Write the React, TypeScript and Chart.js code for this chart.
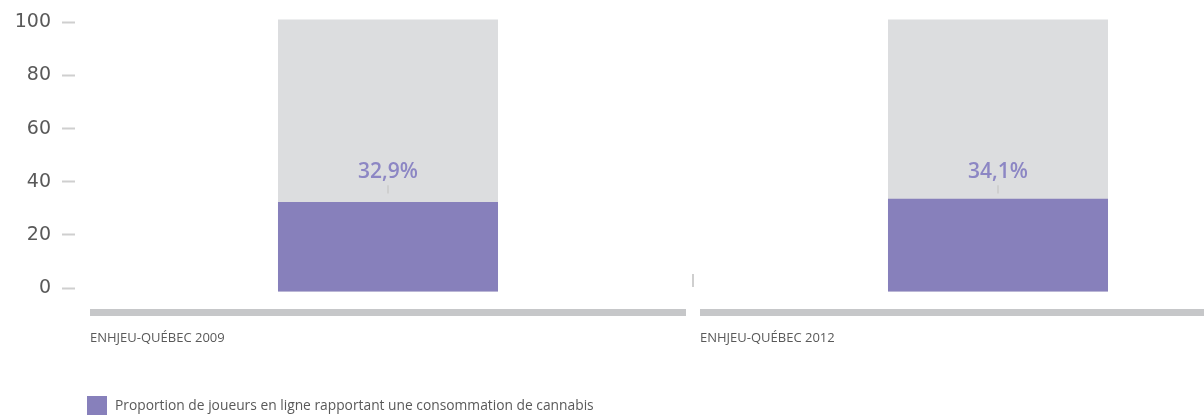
import React, { useEffect, useRef } from 'react';
import { Chart, registerables } from 'chart.js';

Chart.register(...registerables);

const categories = ['ENHJEU-QUÉBEC 2009', 'ENHJEU-QUÉBEC 2012'];
const cannabisValues = [32.9, 34.1];
const totalValues = [100, 100];
const valueLabels = ['32,9%', '34,1%'];
const legendLabel = 'Proportion de joueurs en ligne rapportant une consommation de cannabis';

const FONT = "'Open Sans', 'Noto Sans', sans-serif";
const TICK_FONT = "'DejaVu Sans', 'Open Sans', sans-serif";
const PURPLE = '#8780bb';
const LABEL_PURPLE = '#8c86c4';
const GRAY_BAR = '#dcdddf';
const BASE_GRAY = '#c6c7c9';
const TICK_GRAY = '#cfcfcf';
const TEXT = '#595959';

const decorPlugin = {
  id: 'decor',
  afterDatasetsDraw(chart: any) {
    const { ctx, chartArea } = chart;
    const xs = chart.scales.x;
    const yb = chart.scales.yBar;
    const n = categories.length;
    const catW = xs.width / n;
    ctx.save();
    ctx.fillStyle = BASE_GRAY;
    for (let i = 0; i < n; i++) {
      const c = xs.getPixelForValue(i);
      ctx.fillRect(c - catW / 2 + 7, chartArea.bottom + 21, catW - 14, 7);
    }
    ctx.strokeStyle = TICK_GRAY;
    ctx.lineWidth = 2;
    for (let i = 0; i < n - 1; i++) {
      const bx = (xs.getPixelForValue(i) + xs.getPixelForValue(i + 1)) / 2;
      ctx.beginPath();
      ctx.moveTo(bx, chartArea.bottom - 14);
      ctx.lineTo(bx, chartArea.bottom - 1);
      ctx.stroke();
    }
    const meta = chart.getDatasetMeta(0);
    meta.data.forEach((bar: any, i: number) => {
      const x = bar.x;
      ctx.strokeStyle = TICK_GRAY;
      ctx.lineWidth = 2;
      ctx.beginPath();
      ctx.moveTo(x, yb.getPixelForValue(39.1));
      ctx.lineTo(x, yb.getPixelForValue(36.0));
      ctx.stroke();
      ctx.fillStyle = LABEL_PURPLE;
      ctx.font = `600 21px ${FONT}`;
      ctx.textAlign = 'center';
      ctx.textBaseline = 'alphabetic';
      ctx.fillText(valueLabels[i], x, yb.getPixelForValue(41.7));
    });
    ctx.restore();
  },
};

export default function App() {
  const ref = useRef<HTMLCanvasElement>(null);
  useEffect(() => {
    if (!ref.current) return;
    const chart = new Chart(ref.current, {
      type: 'bar',
      data: {
        labels: categories,
        datasets: [
          {
            label: legendLabel,
            data: cannabisValues,
            backgroundColor: PURPLE,
            yAxisID: 'yBar',
            order: 0,
            grouped: false,
            base: 0,
            clip: false as any,
            barPercentage: 0.3607,
            categoryPercentage: 1,
          },
          {
            label: 'Total',
            data: totalValues,
            backgroundColor: GRAY_BAR,
            yAxisID: 'yBar',
            order: 1,
            grouped: false,
            base: 0,
            clip: false as any,
            barPercentage: 0.3607,
            categoryPercentage: 1,
          },
        ],
      },
      options: {
        responsive: false,
        animation: false,
        layout: { padding: { top: 22, left: 0, right: 0, bottom: 0 } },
        plugins: {
          legend: { display: false },
          tooltip: { enabled: false },
        },
        scales: {
          x: {
            type: 'category',
            offset: true,
            grid: { display: false, drawTicks: false },
            border: { display: false },
            ticks: {
              align: 'start',
              labelOffset: -298,
              padding: 42,
              maxRotation: 0,
              autoSkip: false,
              color: TEXT,
              font: { family: FONT, size: 13 },
            },
            afterFit: (s: any) => {
              s.height = 129;
            },
          },
          y: {
            type: 'linear',
            position: 'left',
            min: 0,
            max: 100,
            border: { display: false },
            grid: {
              drawOnChartArea: false,
              drawTicks: true,
              tickLength: 21,
              tickColor: TICK_GRAY,
              tickWidth: 2,
              tickBorderDash: [13, 200],
            },
            ticks: {
              stepSize: 20,
              padding: 11,
              color: TEXT,
              font: { family: TICK_FONT, size: 19 },
            },
            afterFit: (s: any) => {
              s.width = 83;
            },
          },
          yBar: {
            type: 'linear',
            display: false,
            min: 1.3,
            max: 98.9,
          },
        },
      },
      plugins: [decorPlugin],
    });
    return () => chart.destroy();
  }, []);

  return (
    <div
      style={{
        position: 'absolute',
        left: 0,
        top: 0,
        width: 1204,
        height: 417,
        overflow: 'hidden',
        background: '#fff',
      }}
    >
      <canvas ref={ref} width={1303} height={417} style={{ display: 'block' }} />
      <div
        style={{
          position: 'absolute',
          left: 87,
          top: 396,
          width: 20,
          height: 19,
          background: PURPLE,
        }}
      />
      <div
        style={{
          position: 'absolute',
          left: 115,
          top: 395,
          lineHeight: '20px',
          fontFamily: FONT,
          fontSize: 13.8,
          color: TEXT,
          whiteSpace: 'nowrap',
        }}
      >
        {legendLabel}
      </div>
    </div>
  );
}
